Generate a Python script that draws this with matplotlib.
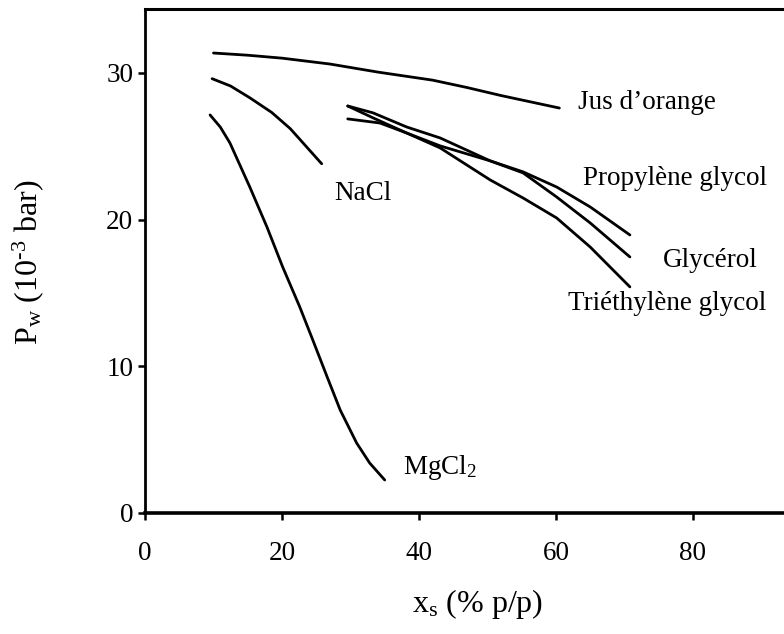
import matplotlib
matplotlib.use("Agg")
import matplotlib.pyplot as plt

# Courbes (x_s en % p/p, P_w en 10^-3 bar)
jus_x = [10, 15, 20, 27, 34, 42, 47, 52, 56, 60.5]
jus_y = [31.35, 31.2, 31.0, 30.6, 30.05, 29.5, 29.0, 28.45, 28.05, 27.6]

nacl_x = [9.8, 12.5, 15.3, 18.5, 21.2, 23.5, 25.8]
nacl_y = [29.6, 29.1, 28.3, 27.3, 26.2, 25.0, 23.8]

mgcl2_x = [9.5, 11.0, 12.4, 15.3, 17.8, 20.1, 22.6, 24.5, 26.6, 28.5, 30.9, 32.8, 35.0]
mgcl2_y = [27.13, 26.3, 25.22, 22.22, 19.5, 16.77, 14.04, 11.79, 9.27, 7.02, 4.77, 3.41, 2.25]

prop_x = [29.6, 34.3, 38.2, 43.1, 50.4, 55.2, 60.1, 65.0, 70.8]
prop_y = [26.86, 26.58, 25.9, 25.02, 24.0, 23.25, 22.22, 20.86, 18.95]

glyc_x = [29.6, 33.3, 38.2, 43.1, 50.4, 55.2, 60.1, 65.0, 70.8]
glyc_y = [27.74, 27.27, 26.31, 25.56, 24.0, 23.18, 21.54, 19.77, 17.45]

triet_x = [29.6, 33.3, 38.2, 43.1, 50.4, 55.2, 60.1, 65.0, 70.8]
triet_y = [27.74, 26.93, 25.9, 24.88, 22.7, 21.47, 20.11, 18.13, 15.41]

x_ticks = [0, 20, 40, 60, 80]
y_ticks = [0, 10, 20, 30]

# (texte, x, y) des etiquettes des courbes
etiquettes = [
    ("Jus d\u2019orange", 63.2, 27.95),
    ("Propyl\u00e8ne glycol", 63.9, 22.8),
    ("Glyc\u00e9rol", 75.6, 17.2),
    ("Tri\u00e9thyl\u00e8ne glycol", 61.75, 14.3),
    ("NaCl", 27.7, 21.8),
    ("MgCl$_2$", 37.7, 3.1),
]

plt.rcParams["font.family"] = ["Liberation Serif", "DejaVu Serif"]
plt.rcParams["mathtext.fontset"] = "custom"
plt.rcParams["mathtext.rm"] = "Liberation Serif"
plt.rcParams["mathtext.it"] = "Liberation Serif:italic"

fig = plt.figure(figsize=(7.84, 6.34), dpi=100)
ax = fig.add_axes([145 / 784, 121 / 634, 1 - 145 / 784, (513 - 9) / 634])

for xs, ys in [(jus_x, jus_y), (nacl_x, nacl_y), (mgcl2_x, mgcl2_y),
               (prop_x, prop_y), (glyc_x, glyc_y), (triet_x, triet_y)]:
    ax.plot(xs, ys, color="black", linewidth=2.0, solid_capstyle="round",
            solid_joinstyle="round")

for texte, tx, ty in etiquettes:
    ax.text(tx, ty, texte, ha="left", va="center", fontsize=19.5)

ax.set_xlim(0, 93.3)
ax.set_ylim(0, 34.35)
ax.set_xticks(x_ticks)
ax.set_yticks(y_ticks)
ax.tick_params(labelsize=19.5, length=5, width=1.8, direction="out")
ax.tick_params(axis="x", pad=15)
ax.tick_params(axis="y", pad=3.5)

ax.spines["right"].set_visible(False)
ax.spines["left"].set_linewidth(2.0)
ax.spines["top"].set_linewidth(2.2)
ax.spines["bottom"].set_linewidth(2.6)

ax.set_xlabel("x$_{\\rm s}$ (% p/p)", fontsize=23, va="center")
ax.set_ylabel("P$_{\\rm w}$ (10$^{\\rm \u2010 3}$ bar)", fontsize=23, va="center")
ax.xaxis.set_label_coords(0.521, -0.181)
ax.yaxis.set_label_coords(-0.183, 0.498)

fig.savefig("out.png", dpi=100)
